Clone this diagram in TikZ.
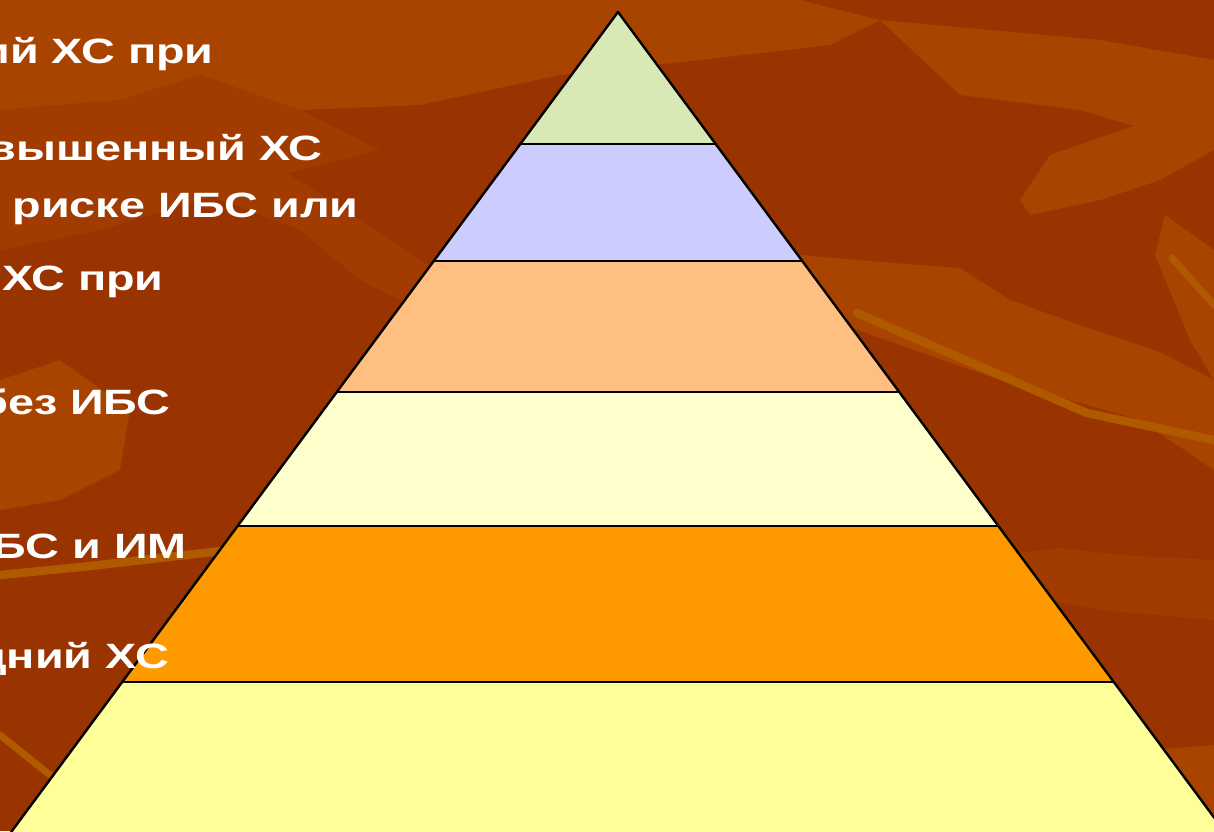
\documentclass[tikz,border=0pt]{standalone}
\usepackage{fontspec}
\setmainfont{Liberation Sans}
\newfontfamily\widefont[FakeStretch=1.33]{Liberation Sans}
\usetikzlibrary{positioning}
\definecolor{bgdark}{HTML}{993300}
\definecolor{bglight}{HTML}{A84400}
\definecolor{bgmid}{HTML}{A13B00}
\definecolor{bgstreak}{HTML}{B05A00}
\definecolor{lvgreen}{HTML}{D8E9B5}
\definecolor{lvlav}{HTML}{CCCCFF}
\definecolor{lvpeach}{HTML}{FFBF80}
\definecolor{lvcream}{HTML}{FFFFCC}
\definecolor{lvorange}{HTML}{FF9900}
\definecolor{lvyellow}{HTML}{FFFF99}
\begin{document}
\begin{tikzpicture}[x=0.025cm,y=-0.025cm,lvtext/.style={font=\widefont\fontsize{25}{29}\selectfont\bfseries,text=white,inner sep=0pt,anchor=base east},edge/.style={line width=1.7pt,line join=round},rim/.style={line width=1.3pt}]
\useasboundingbox (0,0) rectangle (1214,831);
\clip (0,0) rectangle (1214,831);
% background
\fill[bgdark] (0,0) rectangle (1214,831);
\fill[bglight] (0,0)--(1214,0)--(1214,60)--(1100,40)--(880,20)--(960,95)--(1080,110)--(1214,150)--(1214,0)--cycle;
\fill[bglight] (0,0)--(800,0)--(880,20)--(830,45)--(700,60)--(560,75)--(420,105)--(300,110)--(200,75)--(120,100)--(0,110)--cycle;
\fill[bgmid] (0,110)--(120,100)--(200,75)--(300,110)--(380,150)--(300,170)--(200,200)--(100,230)--(0,250)--cycle;
\fill[bglight] (0,380)--(60,360)--(130,410)--(120,470)--(60,500)--(0,510)--cycle;
\fill[bgmid] (140,170)--(250,150)--(330,200)--(420,260)--(500,300)--(440,320)--(360,280)--(300,230)--cycle;
\fill[bglight] (800,255)--(880,262)--(960,268)--(1010,300)--(1080,325)--(1160,352)--(1214,380)--(1214,470)--(1140,420)--(1000,380)--(900,345)--(830,320)--(800,300)--cycle;
\fill[bglight] (1050,155)--(1180,110)--(1214,95)--(1214,150)--(1160,180)--(1100,200)--(1030,215)--(1020,200)--cycle;
\fill[bglight] (1165,215)--(1214,250)--(1214,380)--(1190,340)--(1155,255)--cycle;
\fill[bgmid] (960,560)--(1060,548)--(1120,555)--(1214,560)--(1214,620)--(1100,610)--(1000,590)--cycle;
\fill[bglight] (1080,780)--(1150,750)--(1214,745)--(1214,831)--(1100,831)--cycle;
\draw[bgstreak,line width=6pt,line cap=round] (857,313)--(1087,413)--(1214,440);
\draw[bgstreak,line width=5pt,line cap=round] (1172,258)--(1214,305);
\draw[bgstreak,line width=6pt,line cap=round] (0,575)--(90,566)--(230,550);
\draw[bgstreak,line width=5pt,line cap=round] (0,735)--(50,775);
% pyramid levels
\foreach \a/\b/\c in {12/144/lvgreen,144/261/lvlav,261/392/lvpeach,392/526/lvcream,526/682/lvorange,682/870/lvyellow}
  \fill[\c] ({618-0.74*(\a-12)},\a)--({618+0.74*(\a-12)},\a)--({618+0.74*(\b-12)},\b)--({618-0.74*(\b-12)},\b)--cycle;
\foreach \a in {144,261,392,526,682}
  \draw[rim] ({618-0.74*(\a-12)},\a)--({618+0.74*(\a-12)},\a);
\coordinate (apex) at (618,12);
\coordinate (bl) at ({618-0.74*858},870);
\coordinate (br) at ({618+0.74*858},870);
\draw[edge] (bl)--(apex)--(br);
% texts
\node[lvtext] (t1) at (214,63) {ий ХС при};
\node[lvtext] (t2) at (323,160) {вышенный ХС};
\node[lvtext] (t3) at (359,217) {риске ИБС или};
\node[lvtext] (t4) at (164,290) {ХС при};
\node[lvtext] (t5) at (171,414) {без ИБС};
\node[lvtext] (t6) at (187,558) {БС и ИМ};
\node[lvtext] (t7) at (169,668) {дний ХС};
\end{tikzpicture}
\end{document}
